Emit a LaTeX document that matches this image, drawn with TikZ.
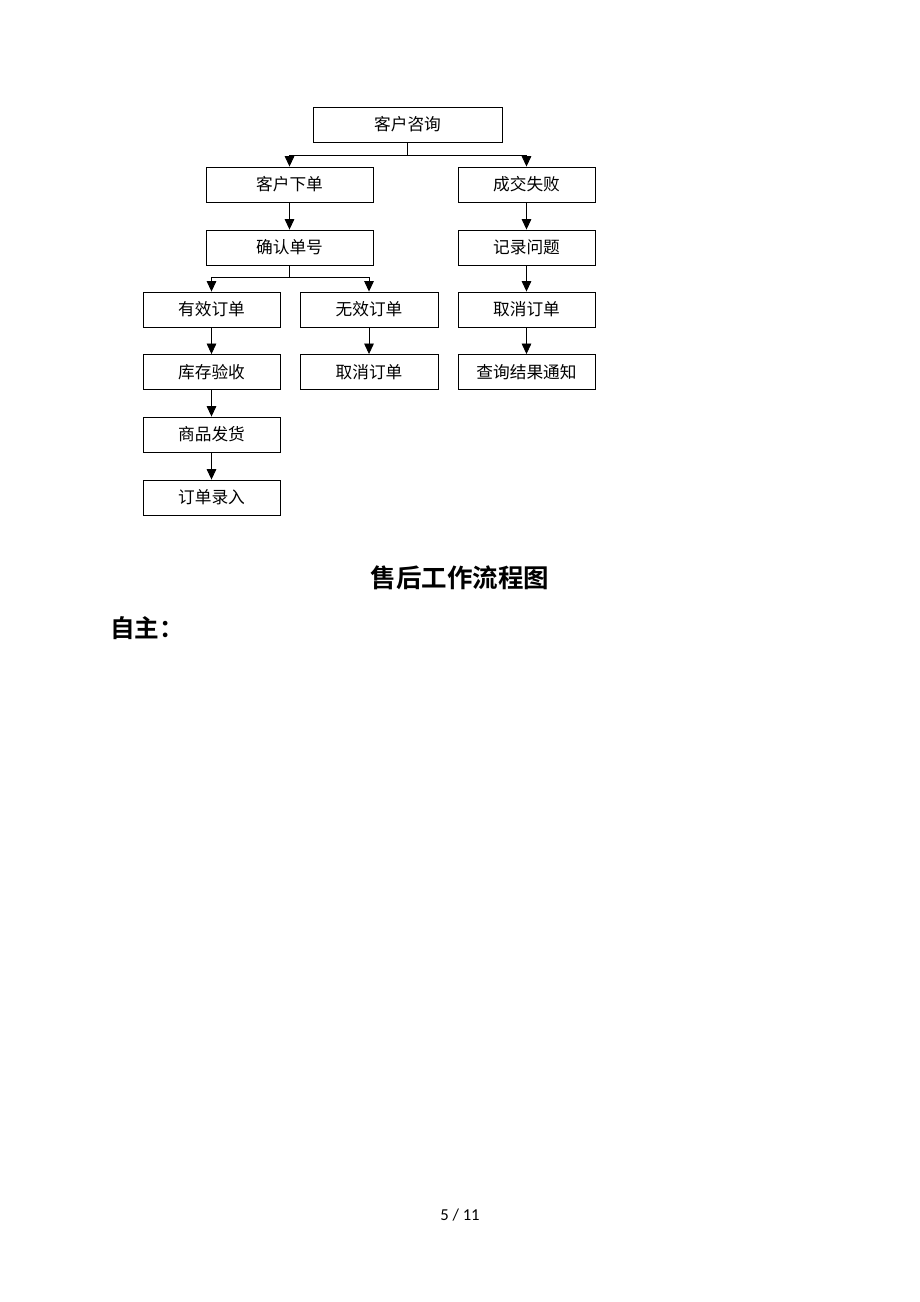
\documentclass[tikz,border=0pt]{standalone}
\usepackage{fontspec}
\setmainfont{Carlito}
\newfontfamily\cjk{Noto Sans CJK SC}
\newfontfamily\cjkb{Noto Sans CJK SC Bold}
\usepackage{tikz}
\usetikzlibrary{arrows.meta, positioning}

\tikzset{
  box/.style={draw, line width=0.5pt, rectangle, minimum height=0.70cm, inner sep=0pt, font=\cjk\fontsize{9.5}{11}\selectfont},
  arr/.style={-{Triangle[width=5.5pt,length=6pt]}, line width=0.5pt}
}

\begin{document}
\begin{tikzpicture}
\useasboundingbox[fill=white] (0,0) rectangle (18.4,-26.04);

% Top
\node[box,minimum width=3.78cm] (zixun) at (8.15,-2.49) {客户咨询};
\node[box,minimum width=3.34cm] (xiadan) at (5.79,-3.69) {客户下单};
\node[box,minimum width=2.74cm] (shibai) at (10.53,-3.69) {成交失败};
\node[box,minimum width=3.34cm] (queren) at (5.79,-4.95) {确认单号};
\node[box,minimum width=2.74cm] (jilu) at (10.53,-4.95) {记录问题};

% Middle
\node[box,minimum width=2.74cm] (youxiao) at (4.23,-6.19) {有效订单};
\node[box,minimum width=2.76cm] (wuxiao) at (7.38,-6.19) {无效订单};
\node[box,minimum width=2.74cm] (quxiaoR) at (10.53,-6.19) {取消订单};
\node[box,minimum width=2.74cm] (kucun) at (4.23,-7.44) {库存验收};
\node[box,minimum width=2.76cm] (quxiaoM) at (7.38,-7.44) {取消订单};
\node[box,minimum width=2.74cm] (chaxun) at (10.53,-7.44) {查询结果通知};

% Bottom
\node[box,minimum width=2.74cm] (fahuo) at (4.23,-8.69) {商品发货};
\node[box,minimum width=2.74cm] (luru) at (4.23,-9.95) {订单录入};

% Forks
\draw[line width=0.5pt] (zixun.south) -- ++(0,-0.26) coordinate (f1);
\draw[arr] (f1) -| (xiadan.north);
\draw[arr] (f1) -| (shibai.north);
\draw[line width=0.5pt] (queren.south) -- ++(0,-0.24) coordinate (f2);
\draw[arr] (f2) -| (youxiao.north);
\draw[arr] (f2) -| (wuxiao.north);

% Chains
\foreach \a/\b in {xiadan/queren, shibai/jilu, jilu/quxiaoR, quxiaoR/chaxun, wuxiao/quxiaoM, youxiao/kucun, kucun/fahuo, fahuo/luru} {
    \draw[arr] (\a.south) -- (\b.north);
}

% Text
\node (title) at (9.2,-11.56) {\cjkb\fontsize{14.5}{16}\selectfont 售后工作流程图};
\node[anchor=west,inner sep=0pt] (zizhu) at (2.2,-12.56) {\cjkb\fontsize{14}{16}\selectfont 自主：};
\node (page) at (9.2,-24.3) {\fontsize{9.5}{11}\selectfont 5 / 11};
\end{tikzpicture}
\end{document}
